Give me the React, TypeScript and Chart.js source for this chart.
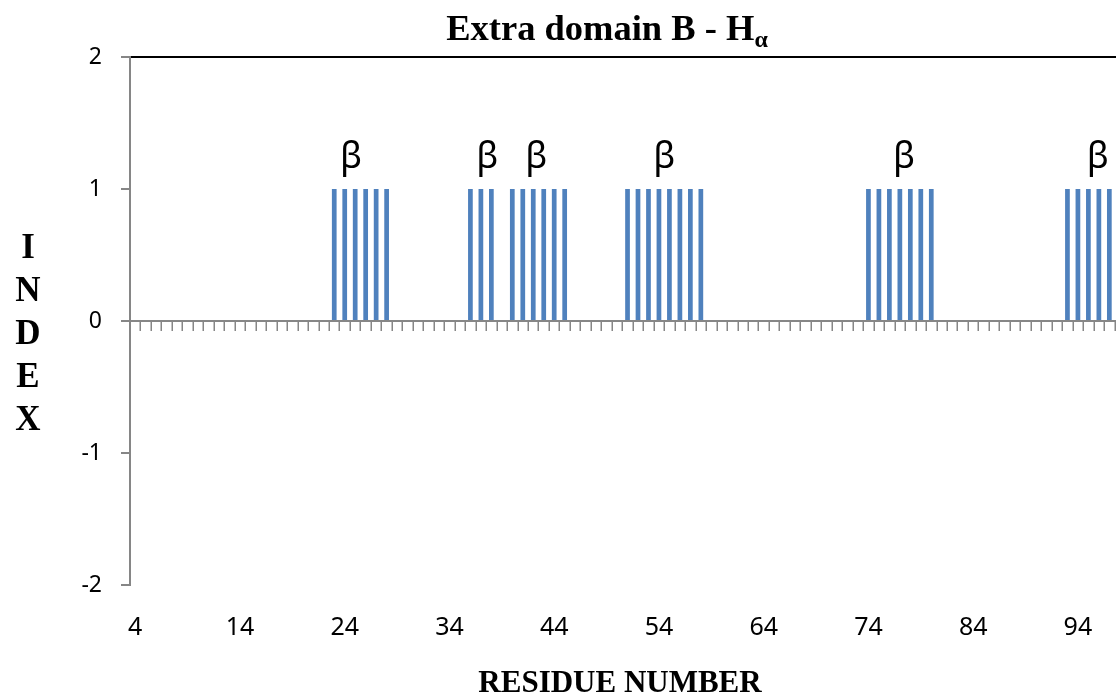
import React, { useEffect, useRef } from "react";
import { Chart, registerables } from "chart.js";

Chart.register(...registerables);

// Residue numbers (categories)
const residues: number[] = [
  4, 5, 6, 7, 8, 9, 10, 11, 12, 13,
  14, 15, 16, 17, 18, 19, 20, 21, 22, 23,
  24, 25, 26, 27, 28, 29, 30, 31, 32, 33,
  34, 35, 36, 37, 38, 39, 40, 41, 42, 43,
  44, 45, 46, 47, 48, 49, 50, 51, 52, 53,
  54, 55, 56, 57, 58, 59, 60, 61, 62, 63,
  64, 65, 66, 67, 68, 69, 70, 71, 72, 73,
  74, 75, 76, 77, 78, 79, 80, 81, 82, 83,
  84, 85, 86, 87, 88, 89, 90, 91, 92, 93,
  94, 95, 96, 97, 98, 99, 100,
];

// H-alpha index per residue
const indexValues: number[] = [
  0, 0, 0, 0, 0, 0, 0, 0, 0, 0,
  0, 0, 0, 0, 0, 0, 0, 0, 0, 1,
  1, 1, 1, 1, 1, 0, 0, 0, 0, 0,
  0, 0, 1, 1, 1, 0, 1, 1, 1, 1,
  1, 1, 0, 0, 0, 0, 0, 1, 1, 1,
  1, 1, 1, 1, 1, 0, 0, 0, 0, 0,
  0, 0, 0, 0, 0, 0, 0, 0, 0, 0,
  1, 1, 1, 1, 1, 1, 1, 0, 0, 0,
  0, 0, 0, 0, 0, 0, 0, 0, 0, 1,
  1, 1, 1, 1, 0, 0, 0,
];

// Y axis tick values
const yTicks: number[] = [-2, -1, 0, 1, 2];

// β annotation positions (residue number) and level (index value)
const betaResidues: number[] = [24.6, 37.6, 42.3, 54.5, 77.4, 95.9];
const betaLevel = 1.16;

const chartTitle = "Extra domain B - H";
const chartTitleSub = "α";
const xTitle = "RESIDUE NUMBER";
const yTitleLetters: string[] = ["I", "N", "D", "E", "X"];

const labels = residues.map((r) => String(r));

export default function App() {
  const ref = useRef<HTMLCanvasElement | null>(null);

  useEffect(() => {
    if (!ref.current) return;

    const overlay = {
      id: "overlay",
      afterDraw(chart: any) {
        const { ctx, chartArea, scales } = chart;
        const x = scales.x;
        const y = scales.y;
        const y0 = y.getPixelForValue(0);
        ctx.save();
        // zero axis line
        ctx.strokeStyle = "#868686";
        ctx.lineWidth = 2;
        ctx.beginPath();
        ctx.moveTo(chartArea.left - 9, y0);
        ctx.lineTo(chartArea.right, y0);
        ctx.stroke();
        // category boundary tick marks
        const half = (x.getPixelForValue(1) - x.getPixelForValue(0)) / 2;
        ctx.lineWidth = 1.5;
        for (let i = 1; i <= labels.length; i++) {
          const px = Math.round(x.getPixelForValue(i) - half) + 0.25;
          ctx.beginPath();
          ctx.moveTo(px, y0);
          ctx.lineTo(px, y0 + 10);
          ctx.stroke();
        }
        // beta annotations
        ctx.fillStyle = "#000";
        ctx.font = '36px "Noto Sans"';
        ctx.textAlign = "center";
        ctx.textBaseline = "alphabetic";
        betaResidues.forEach((r) => {
          ctx.fillText("β", x.getPixelForValue(r - residues[0]), y.getPixelForValue(betaLevel));
        });
        // title
        ctx.font = 'bold 36.5px "Liberation Serif"';
        const w1 = ctx.measureText(chartTitle).width;
        ctx.font = 'bold 24px "Liberation Serif"';
        const w2 = ctx.measureText(chartTitleSub).width;
        const tx = 607 - (w1 + w2) / 2;
        ctx.textAlign = "left";
        ctx.font = 'bold 36.5px "Liberation Serif"';
        ctx.fillText(chartTitle, tx, 40);
        ctx.font = 'bold 24px "Liberation Serif"';
        ctx.fillText(chartTitleSub, tx + w1, 47);
        // x title
        ctx.textAlign = "center";
        ctx.font = 'bold 31px "Liberation Serif"';
        ctx.fillText(xTitle, 620, 692);
        // y title letters stacked
        ctx.font = 'bold 35px "Liberation Serif"';
        yTitleLetters.forEach((ch, i) => {
          ctx.fillText(ch, 28, 258 + i * 43);
        });
        ctx.restore();
      },
    };

    const chart = new Chart(ref.current, {
      type: "bar",
      data: {
        labels,
        datasets: [
          {
            data: indexValues,
            backgroundColor: "#4F81BD",
            categoryPercentage: 1,
            barPercentage: 0.45,
          },
        ],
      },
      options: {
        animation: false,
        responsive: false,
        events: [],
        layout: { padding: { top: 57, right: 4, left: 0, bottom: 0 } },
        plugins: {
          legend: { display: false },
          title: { display: false },
          tooltip: { enabled: false },
        },
        scales: {
          x: {
            type: "category",
            grid: { display: false, drawTicks: false },
            border: { display: false },
            ticks: {
              autoSkip: false,
              maxRotation: 0,
              minRotation: 0,
              padding: 28,
              color: "#000",
              font: { family: "Noto Sans", size: 25 },
              callback: (_v: any, i: number) => (i % 10 === 0 ? labels[i] : ""),
            },
            afterFit: (s: any) => {
              s.height = 110;
              s.paddingLeft = 0;
              s.paddingRight = 0;
            },
          },
          y: {
            min: yTicks[0],
            max: yTicks[yTicks.length - 1],
            afterBuildTicks: (s: any) => {
              s.ticks = yTicks.map((v) => ({ value: v }));
            },
            ticks: {
              padding: 19,
              color: "#000",
              font: { family: "Noto Sans", size: 23 },
            },
            grid: {
              color: (c: any) => (c.tick && c.tick.value === yTicks[yTicks.length - 1] ? "#000" : "rgba(0,0,0,0)"),
              tickColor: "#868686",
              tickLength: 9,
              lineWidth: 2,
              tickWidth: 2,
              drawTicks: true,
            },
            border: { display: true, color: "#868686", width: 2 },
            afterFit: (s: any) => {
              s.width = 130;
            },
          },
        },
      },
      plugins: [overlay],
    });

    return () => chart.destroy();
  }, []);

  return (
    <div
      style={{
        position: "fixed",
        left: 0,
        top: 0,
        width: 1116,
        height: 695,
        overflow: "hidden",
        background: "#fff",
      }}
    >
      <canvas ref={ref} width={1150} height={695} style={{ width: 1150, height: 695, display: "block" }} />
    </div>
  );
}
